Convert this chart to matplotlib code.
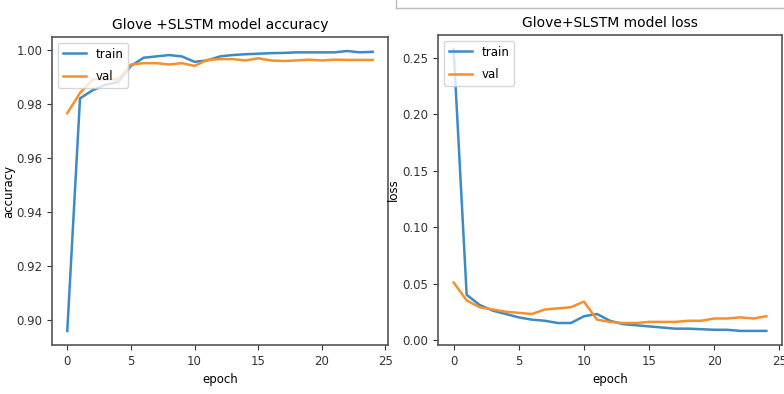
import numpy as np
import matplotlib.pyplot as plt
from matplotlib.lines import Line2D

epochs = np.arange(25)

acc_train = [0.896, 0.982, 0.985, 0.987, 0.988, 0.994, 0.997, 0.9975, 0.998, 0.9975,
             0.9955, 0.996, 0.9975, 0.998, 0.9983, 0.9985, 0.9987, 0.9988, 0.999, 0.999,
             0.999, 0.999, 0.9995, 0.999, 0.9992]
acc_val = [0.9765, 0.984, 0.989, 0.989, 0.989, 0.9945, 0.995, 0.995, 0.9945, 0.995,
           0.994, 0.9962, 0.9965, 0.9965, 0.996, 0.9968, 0.996, 0.9958, 0.996, 0.9963,
           0.996, 0.9963, 0.9962, 0.9962, 0.9962]

loss_train = [0.258, 0.040, 0.031, 0.026, 0.023, 0.020, 0.018, 0.017, 0.015, 0.015,
              0.021, 0.023, 0.017, 0.014, 0.013, 0.012, 0.011, 0.010, 0.010, 0.0095,
              0.009, 0.009, 0.008, 0.008, 0.008]
loss_val = [0.051, 0.035, 0.029, 0.027, 0.025, 0.024, 0.023, 0.027, 0.028, 0.029,
            0.034, 0.018, 0.016, 0.015, 0.015, 0.016, 0.016, 0.016, 0.017, 0.017,
            0.019, 0.019, 0.020, 0.019, 0.021]

W, H = 784, 394
fig = plt.figure(figsize=(W / 100, H / 100), dpi=100)

plt.rcParams["font.size"] = 8.5


def axes_px(x0, y0, x1, y1):
    return fig.add_axes([x0 / W, 1 - y1 / H, (x1 - x0) / W, (y1 - y0) / H])


ax1 = axes_px(52, 37, 388, 345)
ax1.plot(epochs, acc_train, label="train", lw=1.8, color="#3d8ac4")
ax1.plot(epochs, acc_val, label="val", lw=1.8, color="#f7902a")
ax1.set_title("Glove +SLSTM model accuracy", fontsize=10)
ax1.set_xlabel("epoch", fontsize=8.5)
ax1.set_ylabel("accuracy", fontsize=8.5, labelpad=1)
ax1.set_xticks([0, 5, 10, 15, 20, 25])
ax1.set_yticks([0.90, 0.92, 0.94, 0.96, 0.98, 1.00])
ax1.legend(loc="upper left", fontsize=8.5, labelspacing=0.8)

ax2 = axes_px(438, 35, 782, 345)
ax2.plot(epochs, loss_train, label="train", lw=1.8, color="#3d8ac4")
ax2.plot(epochs, loss_val, label="val", lw=1.8, color="#f7902a")
ax2.set_title("Glove+SLSTM model loss", fontsize=10)
ax2.set_xlabel("epoch", fontsize=8.5)
ax2.set_ylabel("loss", fontsize=8.5, labelpad=2)
ax2.set_xticks([0, 5, 10, 15, 20, 25])
ax2.set_yticks([0.00, 0.05, 0.10, 0.15, 0.20, 0.25])
ax2.legend(loc="upper left", fontsize=8.5, labelspacing=0.8)

for ax in (ax1, ax2):
    for s in ax.spines.values():
        s.set_color("#555555")
        s.set_linewidth(1.2)
    ax.tick_params(colors="#333333", labelcolor="#333333")

# thin border line at the top right of the screenshot
fig.add_artist(Line2D([396 / W, 1], [1 - 8 / H, 1 - 8 / H], color="#bbbbbb", lw=1))
fig.add_artist(Line2D([396 / W, 396 / W], [1, 1 - 8 / H], color="#bbbbbb", lw=1))

fig.savefig("out.png", dpi=100)
